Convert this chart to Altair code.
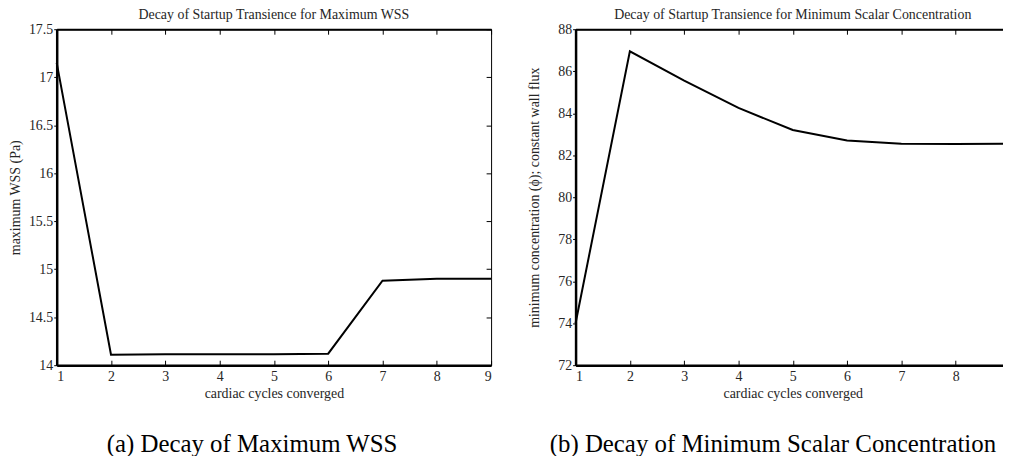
import altair as alt
import pandas as pd

# ---- data ----
cycles = [1, 2, 3, 4, 5, 6, 7, 8, 9]
max_wss = [17.15, 14.11, 14.115, 14.115, 14.115, 14.12, 14.88, 14.9, 14.9]
min_conc = [74.0, 86.95, 85.55, 84.25, 83.2, 82.7, 82.55, 82.53, 82.55]

x_ticks = [1, 2, 3, 4, 5, 6, 7, 8, 9]
wss_ticks = [14, 14.5, 15, 15.5, 16, 16.5, 17, 17.5]
conc_ticks = [72, 74, 76, 78, 80, 82, 84, 86, 88]

title_a = "Decay of Startup Transience for Maximum WSS"
title_b = "Decay of Startup Transience for Minimum Scalar Concentration"
ylab_a = "maximum WSS (Pa)"
ylab_b = "minimum concentration (ϕ); constant wall flux"
xlab = "cardiac cycles converged"
cap_a = "(a) Decay of Maximum WSS"
cap_b = "(b) Decay of Minimum Scalar Concentration"

FONT = "Liberation Serif"
TXT = "#262626"
FS = 14
W, H = 437, 338


def panel(values, ydomain, yticks, ytitle, title):
    df = pd.DataFrame({"cycle": cycles, "val": values})
    base = alt.Chart(df)
    xs = alt.Scale(domain=[1, 9], nice=False, zero=False)
    ys = alt.Scale(domain=ydomain, nice=False, zero=False)
    main = base.mark_line(color="black", strokeWidth=2).encode(
        x=alt.X("cycle:Q", scale=xs,
                axis=alt.Axis(values=x_ticks, orient="bottom", domainWidth=2.5,
                              domainColor="black", ticks=False, labelPadding=4,
                              labelFont=FONT, labelFontSize=FS, labelColor=TXT,
                              title=xlab, titleFont=FONT, titleFontSize=FS,
                              titleFontWeight="normal", titleColor=TXT, titlePadding=4,
                              grid=False)),
        y=alt.Y("val:Q", scale=ys,
                axis=alt.Axis(values=yticks, orient="left", domainWidth=2.5,
                              domainColor="black", tickSize=3, tickColor="black",
                              labelPadding=1, labelFont=FONT, labelFontSize=FS,
                              labelColor=TXT, format="~g", minExtent=30, maxExtent=30,
                              title=ytitle, titleFont=FONT, titleFontSize=FS,
                              titleFontWeight="normal", titleColor=TXT, titlePadding=4,
                              grid=False)),
    )
    tk1 = base.mark_line(strokeOpacity=0).encode(
        x=alt.X("cycle:Q", scale=xs,
                axis=alt.Axis(values=x_ticks, orient="top", offset=-5, tickSize=5,
                              tickColor="black", labels=False, domain=False,
                              title=None, grid=False)),
        y=alt.Y("val:Q", scale=ys,
                axis=alt.Axis(values=yticks, orient="right", offset=-5, tickSize=5,
                              tickColor="black", labels=False, domain=False,
                              title=None, grid=False)),
    )
    tk2 = base.mark_line(strokeOpacity=0).encode(
        x=alt.X("cycle:Q", scale=xs,
                axis=alt.Axis(values=x_ticks, orient="bottom", offset=-5, tickSize=5,
                              tickColor="black", labels=False, domain=False,
                              title=None, grid=False)),
        y=alt.Y("val:Q", scale=ys, axis=None),
    )
    tk3 = base.mark_line(strokeOpacity=0).encode(
        x=alt.X("cycle:Q", scale=xs,
                axis=alt.Axis(orient="top", ticks=False, labels=False, domain=True,
                              domainWidth=2, domainColor="black",
                              title=None, grid=False)),
        y=alt.Y("val:Q", scale=ys, axis=None),
    )
    return alt.layer(main, tk1, tk2, tk3).resolve_axis(
        x="independent", y="independent"
    ).properties(
        width=W, height=H,
        title=alt.TitleParams(title, font=FONT, fontSize=FS, fontWeight="normal",
                              color=TXT, offset=0, anchor="middle"),
    )


def captioned(ch, cap, dx):
    return alt.vconcat(ch).properties(
        title=alt.TitleParams(cap, orient="bottom", font=FONT, fontSize=25,
                              fontWeight="normal", color="black", offset=31,
                              anchor="middle", dx=dx)
    )


left = captioned(panel(max_wss, [14, 17.5], wss_ticks, ylab_a, title_a), cap_a, 0)
right = captioned(panel(min_conc, [72, 88], conc_ticks, ylab_b, title_b), cap_b, 2)

chart = alt.hconcat(left, right, spacing=31).properties(
    autosize=alt.AutoSizeParams(type="none"),
    padding={"left": 49, "top": 20, "right": 952, "bottom": 428},
).configure_view(stroke="black", strokeWidth=1)

chart.save("out.html", embed_options={"renderer": "svg", "actions": False})
